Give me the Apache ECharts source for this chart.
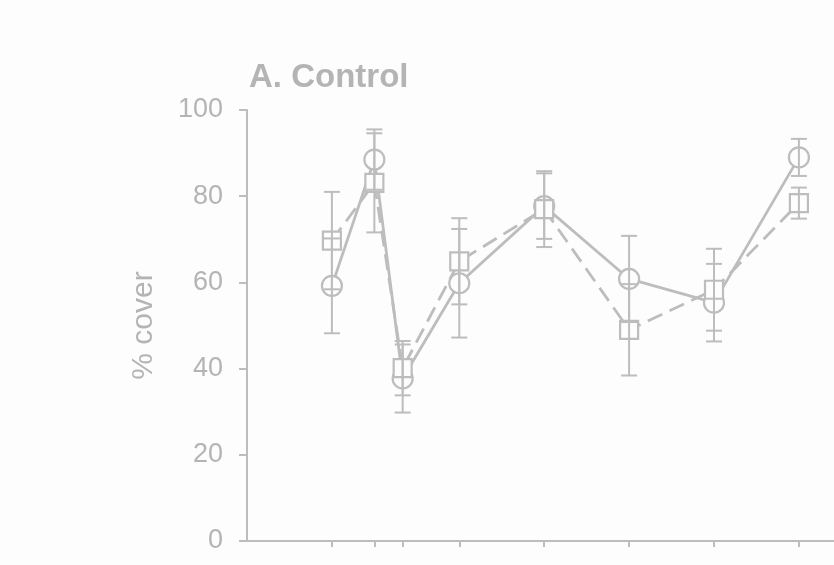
<!DOCTYPE html>
<html>
<head>
<meta charset="utf-8">
<script src="https://cdn.jsdelivr.net/npm/echarts@6/dist/echarts.min.js"></script>
<style>
html,body{margin:0;padding:0;background:#fdfdfd;}
#chart{width:834px;height:565px;}
</style>
</head>
<body>
<div id="chart"></div>
<script>
const titleText = 'A. Control';
const yAxisName = '% cover';
const xVals = [3, 4.5, 5.5, 7.5, 10.5, 13.5, 16.5, 19.5];
const circleMean = [59.2, 88.5, 37.7, 59.8, 77.7, 60.8, 55.3, 89.0];
const circleErr  = [11.0, 7.0, 7.9, 12.6, 7.6, 10.0, 9.0, 4.3];
const squareMean = [69.7, 83.1, 40.1, 64.9, 77.0, 49.0, 58.3, 78.4];
const squareErr  = [11.3, 11.5, 6.3, 10.0, 8.8, 10.6, 9.5, 3.6];
const yTicks = [0, 20, 40, 60, 80, 100];

const gray = '#bdbdbd';
const textGray = '#b4b4b4';
const font = '"Liberation Sans", Arial, sans-serif';

function pts(means) { return xVals.map((x, i) => [x, means[i]]); }
function errData(means, errs) { return xVals.map((x, i) => [x, means[i] - errs[i], means[i] + errs[i]]); }

function renderErr(params, api) {
  const x = api.value(0);
  const lo = api.coord([x, api.value(1)]);
  const hi = api.coord([x, api.value(2)]);
  const hw = 8;
  const style = { stroke: gray, lineWidth: 2 };
  return {
    type: 'group',
    children: [
      { type: 'line', shape: { x1: lo[0], y1: lo[1], x2: hi[0], y2: hi[1] }, style },
      { type: 'line', shape: { x1: lo[0] - hw, y1: lo[1], x2: lo[0] + hw, y2: lo[1] }, style },
      { type: 'line', shape: { x1: hi[0] - hw, y1: hi[1], x2: hi[0] + hw, y2: hi[1] }, style }
    ]
  };
}

const chart = echarts.init(document.getElementById('chart'));
chart.setOption({
  backgroundColor: '#fdfdfd',
  animation: false,
  title: {
    text: titleText,
    left: 249, top: 61, padding: 0,
    textStyle: { fontFamily: font, fontSize: 33, fontWeight: 'bold', color: textGray }
  },
  grid: { left: 247, top: 110, bottom: 24, right: 0, containLabel: false },
  xAxis: {
    type: 'value', min: 0, max: 20.74,
    axisLine: { show: true, lineStyle: { color: gray, width: 2 } },
    axisTick: { show: true, customValues: xVals, length: 6, lineStyle: { color: gray, width: 2 } },
    axisLabel: { show: false },
    splitLine: { show: false }
  },
  yAxis: {
    type: 'value', min: 0, max: 100, interval: 20,
    name: yAxisName, nameLocation: 'middle', nameGap: 88,
    nameTextStyle: { fontFamily: font, fontSize: 30, color: textGray },
    axisLine: { show: true, lineStyle: { color: gray, width: 2 } },
    axisTick: { show: true, length: 8, lineStyle: { color: gray, width: 2 } },
    axisLabel: { fontFamily: font, fontSize: 27, color: textGray, margin: 24,
      formatter: v => yTicks.includes(v) ? String(v) : '' },
    splitLine: { show: false }
  },
  series: [
    {
      type: 'line', data: pts(circleMean), z: 2,
      symbol: 'circle', symbolSize: 20,
      lineStyle: { color: gray, width: 2.8 },
      itemStyle: { color: '#fdfdfd', borderColor: gray, borderWidth: 2.2 }
    },
    {
      type: 'line', data: pts(squareMean), z: 3,
      symbol: 'rect', symbolSize: 18,
      lineStyle: { color: gray, width: 2.8, type: [16, 8] },
      itemStyle: { color: '#fdfdfd', borderColor: gray, borderWidth: 2.2 }
    },
    { type: 'custom', data: errData(circleMean, circleErr), renderItem: renderErr, z: 5 },
    { type: 'custom', data: errData(squareMean, squareErr), renderItem: renderErr, z: 5 }
  ]
});
</script>
</body>
</html>
